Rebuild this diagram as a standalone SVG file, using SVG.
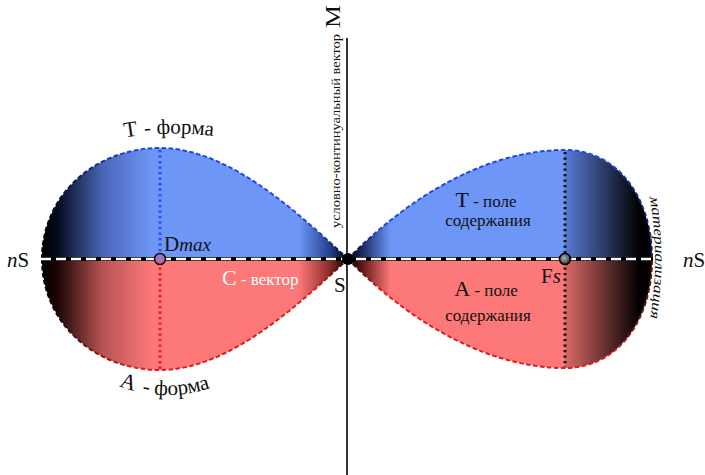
<svg xmlns="http://www.w3.org/2000/svg" width="705" height="475" viewBox="0 0 705 475">
<style>
text{font-family:"Liberation Serif","DejaVu Serif","Times New Roman",serif;fill:#111}
.it{font-style:italic}
.out{fill:none;stroke-width:2;stroke-dasharray:4.5 2.5}
.dot{stroke-width:3;stroke-dasharray:2.2 3.3}
</style>
<defs>
<linearGradient id="gLB" gradientUnits="userSpaceOnUse" x1="42" y1="0" x2="348" y2="0">
<stop offset="0" stop-color="#000"/><stop offset="0.05" stop-color="#050a1c"/><stop offset="0.2" stop-color="#4a66b8"/><stop offset="0.36" stop-color="#6e96f7"/><stop offset="0.84" stop-color="#6e96f7"/><stop offset="0.94" stop-color="#24408c"/><stop offset="1" stop-color="#000"/>
</linearGradient>
<linearGradient id="gLR" gradientUnits="userSpaceOnUse" x1="42" y1="0" x2="348" y2="0">
<stop offset="0" stop-color="#000"/><stop offset="0.05" stop-color="#1c0505"/><stop offset="0.2" stop-color="#b85454"/><stop offset="0.36" stop-color="#fd7878"/><stop offset="0.84" stop-color="#fd7878"/><stop offset="0.94" stop-color="#8c2a2a"/><stop offset="1" stop-color="#000"/>
</linearGradient>
<linearGradient id="gRB" gradientUnits="userSpaceOnUse" x1="348" y1="0" x2="652" y2="0">
<stop offset="0" stop-color="#000"/><stop offset="0.05" stop-color="#1a2c66"/><stop offset="0.14" stop-color="#6e96f7"/><stop offset="0.713" stop-color="#6e96f7"/><stop offset="0.714" stop-color="#5a7bd6"/><stop offset="0.96" stop-color="#000"/><stop offset="1" stop-color="#000"/>
</linearGradient>
<linearGradient id="gRR" gradientUnits="userSpaceOnUse" x1="348" y1="0" x2="652" y2="0">
<stop offset="0" stop-color="#000"/><stop offset="0.05" stop-color="#661a1a"/><stop offset="0.14" stop-color="#fd7878"/><stop offset="0.713" stop-color="#fd7878"/><stop offset="0.714" stop-color="#dc6868"/><stop offset="0.96" stop-color="#000"/><stop offset="1" stop-color="#000"/>
</linearGradient>
<linearGradient id="sLB" gradientUnits="userSpaceOnUse" x1="42" y1="0" x2="348" y2="0">
<stop offset="0" stop-color="#000"/><stop offset="0.12" stop-color="#10205a"/><stop offset="0.3" stop-color="#1f46e6"/><stop offset="0.9" stop-color="#1f46e6"/><stop offset="1" stop-color="#000"/>
</linearGradient>
<linearGradient id="sLR" gradientUnits="userSpaceOnUse" x1="42" y1="0" x2="348" y2="0">
<stop offset="0" stop-color="#000"/><stop offset="0.12" stop-color="#5a1010"/><stop offset="0.3" stop-color="#e21c1c"/><stop offset="0.9" stop-color="#e21c1c"/><stop offset="1" stop-color="#000"/>
</linearGradient>
<linearGradient id="sRB" gradientUnits="userSpaceOnUse" x1="348" y1="0" x2="652" y2="0">
<stop offset="0" stop-color="#000"/><stop offset="0.1" stop-color="#1f46e6"/><stop offset="0.85" stop-color="#1f46e6"/><stop offset="1" stop-color="#10205a"/>
</linearGradient>
<linearGradient id="sRR" gradientUnits="userSpaceOnUse" x1="348" y1="0" x2="652" y2="0">
<stop offset="0" stop-color="#000"/><stop offset="0.1" stop-color="#e21c1c"/><stop offset="0.85" stop-color="#e21c1c"/><stop offset="1" stop-color="#5a1010"/>
</linearGradient>
<linearGradient id="gDmax" x1="0" y1="0" x2="0" y2="1">
<stop offset="0" stop-color="#7a7ee8"/><stop offset="1" stop-color="#e0607a"/>
</linearGradient>
<radialGradient id="gFs" cx="0.4" cy="0.4" r="0.6">
<stop offset="0" stop-color="#b0b0b0"/><stop offset="1" stop-color="#3a3a3a"/>
</radialGradient>
<path id="arcT" d="M 108,141 Q 172,126 240,141"/>
<path id="arcA" d="M 100,377 A 135 135 0 0 0 235,377"/>
<path id="arcMat" d="M 649,193 Q 661,259 649,325"/>
</defs>

<g id="lobe-left">
<path d="M 348,259 C 300,215 230,148 160,148 C 95,148 42,195 42,259 Z" fill="url(#gLB)"/>
<path d="M 348,259 C 300,303 230,370 160,370 C 95,370 42,323 42,259 Z" fill="url(#gLR)"/>
<path class="out" d="M 348,259 C 300,215 230,148 160,148 C 95,148 42,195 42,259" stroke="url(#sLB)"/>
<path class="out" d="M 348,259 C 300,303 230,370 160,370 C 95,370 42,323 42,259" stroke="url(#sLR)"/>
<line class="dot" x1="160" y1="150" x2="160" y2="257" stroke="#2a48ff"/>
<line class="dot" x1="160" y1="262" x2="160" y2="369" stroke="#e81c1c"/>
</g>

<g id="lobe-right">
<path d="M 348,259 C 400,205 480,150 565,150 C 618,150 652,198 652,259 Z" fill="url(#gRB)"/>
<path d="M 348,259 C 400,313 480,368 565,368 C 618,368 652,320 652,259 Z" fill="url(#gRR)"/>
<path class="out" d="M 348,259 C 400,205 480,150 565,150 C 618,150 652,198 652,259" stroke="url(#sRB)"/>
<path class="out" d="M 348,259 C 400,313 480,368 565,368 C 618,368 652,320 652,259" stroke="url(#sRR)"/>
<line class="dot" x1="565" y1="152" x2="565" y2="367" stroke="#111"/>
</g>

<g id="connectors">
<line id="axis-c" x1="41" y1="259" x2="653" y2="259" stroke="#000" stroke-width="4"/>
<line x1="41" y1="259" x2="653" y2="259" stroke="#fff" stroke-width="2.4" stroke-dasharray="10 5"/>
<line id="axis-m" x1="347" y1="38" x2="347" y2="475" stroke="#000" stroke-width="1.6"/>
</g>

<g id="node-S">
<circle cx="348" cy="259" r="6" fill="#000"/>
<text x="334" y="292" font-size="21">S</text>
</g>

<g id="node-Dmax">
<circle cx="160" cy="259" r="5.5" fill="url(#gDmax)" stroke="#111" stroke-width="1.6"/>
<text x="164" y="251" font-size="21">D<tspan class="it" font-size="19">max</tspan></text>
</g>

<g id="node-Fs">
<circle cx="565" cy="259" r="5.5" fill="url(#gFs)" stroke="#000" stroke-width="1.6"/>
<text x="541" y="283" font-size="21">F<tspan class="it">s</tspan></text>
</g>

<g id="label-nS-left"><text x="7" y="267" font-size="21"><tspan class="it">n</tspan>S</text></g>
<g id="label-nS-right"><text x="683" y="267" font-size="21"><tspan class="it">n</tspan>S</text></g>

<g id="label-C"><text x="222" y="285" font-size="22" style="fill:#fff">C<tspan font-size="17"> - вектор</tspan></text></g>

<g id="label-T-field">
<text x="486" y="207" font-size="22" text-anchor="middle">T<tspan font-size="17"> - поле</tspan></text>
<text x="488" y="226" font-size="17" text-anchor="middle">содержания</text>
</g>
<g id="label-A-field">
<text x="486" y="296" font-size="22" text-anchor="middle">A<tspan font-size="17"> - поле</tspan></text>
<text x="488" y="321" font-size="17" text-anchor="middle">содержания</text>
</g>

<g id="label-T-form">
<text font-size="22"><textPath href="#arcT" startOffset="17">T</textPath></text>
<text font-size="21"><textPath href="#arcT" startOffset="37">- форма</textPath></text>
</g>
<g id="label-A-form">
<text font-size="22"><textPath href="#arcA" startOffset="21">A</textPath></text>
<text font-size="21"><textPath href="#arcA" startOffset="45">- форма</textPath></text>
</g>

<g id="label-mat"><text class="it" font-size="14"><textPath href="#arcMat" startOffset="4" textLength="122" lengthAdjust="spacingAndGlyphs">материализация</textPath></text></g>

<g id="label-M">
<text transform="translate(340,228) rotate(-90)" font-size="13" textLength="194" lengthAdjust="spacingAndGlyphs">условно-континуальный вектор</text>
<text transform="translate(340,28) rotate(-90)" font-size="20" textLength="23" lengthAdjust="spacingAndGlyphs">M</text>
</g>
</svg>
